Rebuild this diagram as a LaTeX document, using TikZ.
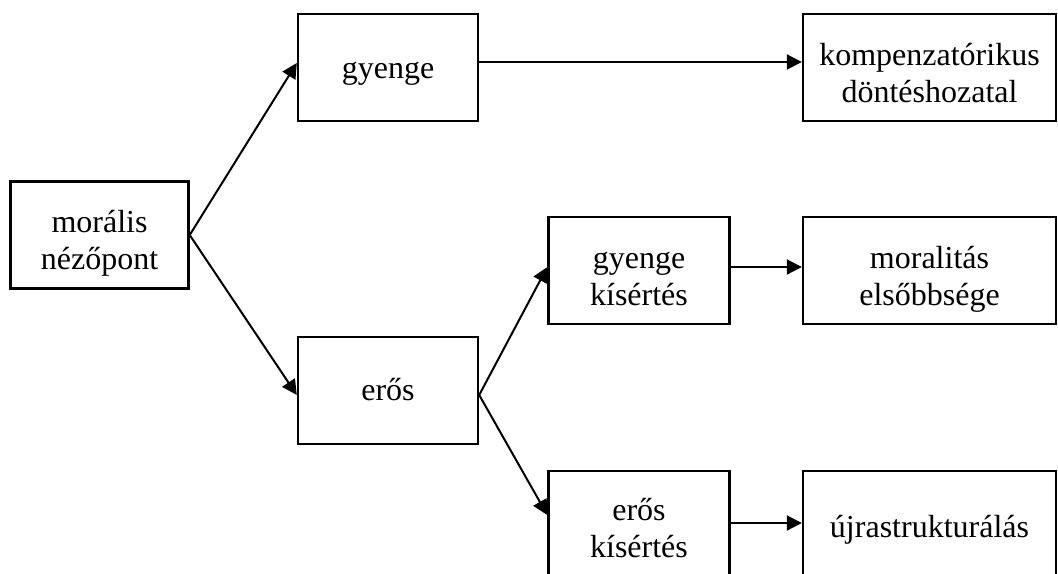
\documentclass[tikz,border=0pt]{standalone}
\usepackage{fontspec}
\setmainfont{Liberation Serif}
\usepackage{tikz}
\usetikzlibrary{positioning, arrows.meta, calc}

\tikzset{
    box/.style={draw=black, line width=1.2pt, inner sep=0pt, minimum height=53.5pt},
    label text/.style={anchor=base, inner sep=0pt,
        font=\fontsize{16pt}{18.5pt}\selectfont},
    arrow/.style={black, line width=1pt, -{Triangle[length=7.5pt, width=7.5pt]}}
}

\begin{document}
\begin{tikzpicture}[x=0.5pt, y=-0.5pt]
    % page
    \clip (0,0) rectangle (1058,573);

    % boxes and their text (\dy = first baseline below the centre)
    \foreach \name/\cx/\cy/\w/\dy/\txt in {
        moral/99.5/235/178/-3/{morális\\nézőpont},
        gyenge/388/67.5/180/10.5/{gyenge},
        eros/388/390.5/180/10/{erős},
        komp/929.5/67.5/253/-2.5/{kompenzatórikus\\döntéshozatal},
        gyk/639/270.5/181/-2.5/{gyenge\\kísértés},
        moralitas/929.5/270.5/253/-2.5/{moralitás\\elsőbbsége},
        erosk/639/524.5/181/-4.5/{erős\\kísértés},
        ujra/929.5/524.5/253/12.5/{újrastrukturálás}}
    {
        \node[box, minimum width=\w*0.5pt] (\name) at (\cx,\cy) {};
        \node[label text] (\name-t) at ($(\name.center)+(0,\dy)$)
            {\begin{tabular}[t]{@{}c@{}}\txt\end{tabular}};
    }

    % connectors
    \foreach \start/\end/\sy/\ey in {
        moral/gyenge/0/-4.5,
        moral/eros/0/4.5,
        gyenge/komp/-5.5/-5.5,
        eros/gyk/4.5/-3.5,
        eros/erosk/4.5/-9.5,
        gyk/moralitas/-3.5/-3.5,
        erosk/ujra/-1.5/-1.5}
    {
        \draw[arrow] ($(\start.east)+(0,\sy)$) -- ($(\end.west)+(0,\ey)$);
    }
\end{tikzpicture}
\end{document}
